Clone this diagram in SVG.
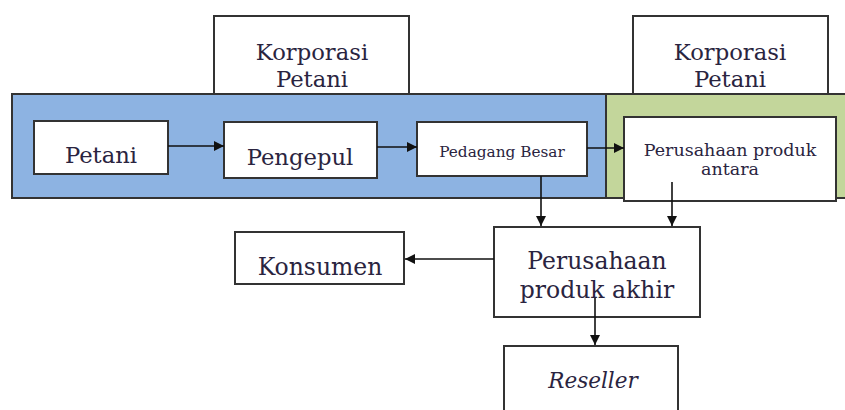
<svg xmlns="http://www.w3.org/2000/svg" width="845" height="410" viewBox="0 0 845 410">
  <defs>
    <marker id="arrow" viewBox="0 0 10 10" refX="10" refY="5" markerWidth="10" markerHeight="10" markerUnits="userSpaceOnUse" orient="auto">
      <path d="M0,0 L10,5 L0,10 z" fill="#111"/>
    </marker>
  </defs>
  <style>
    .box { fill: #ffffff; stroke: #333333; stroke-width: 2; }
    .band { stroke: #333333; stroke-width: 2; }
    .lbl { font-family: "DejaVu Serif", "Liberation Serif", serif; fill: #2a2440; text-anchor: middle; }
    .big { font-size: 22.7px; }
    .mid { font-size: 23.5px; }
    .small { font-size: 15.3px; }
    .conn { stroke: #111111; stroke-width: 1.6; fill: none; marker-end: url(#arrow); }
  </style>

  <!-- Korporasi Petani headers (lower edges hidden behind the bands) -->
  <g id="korporasi1">
    <rect class="box" x="214" y="16" width="195" height="90"/>
    <text class="lbl big" x="312" y="60">Korporasi</text>
    <text class="lbl big" x="312" y="87">Petani</text>
  </g>
  <g id="korporasi2">
    <rect class="box" x="633" y="16" width="195" height="90"/>
    <text class="lbl big" x="730" y="60">Korporasi</text>
    <text class="lbl big" x="730" y="87">Petani</text>
  </g>

  <!-- Coloured bands -->
  <g id="band-blue">
    <rect class="band" x="12" y="94" width="594" height="104" fill="#8db3e2"/>
  </g>
  <g id="band-green">
    <rect class="band" x="606" y="94" width="245" height="104" fill="#c3d69b"/>
  </g>

  <!-- Nodes -->
  <g id="petani">
    <rect class="box" x="34" y="121" width="134" height="53"/>
    <text class="lbl big" x="101" y="163">Petani</text>
  </g>
  <g id="pengepul">
    <rect class="box" x="224" y="122" width="153" height="56"/>
    <text class="lbl big" x="300" y="165">Pengepul</text>
  </g>
  <g id="pedagang-besar">
    <rect class="box" x="417" y="122" width="170" height="54"/>
    <text class="lbl small" x="502" y="157">Pedagang Besar</text>
  </g>
  <g id="perusahaan-antara">
    <rect class="box" x="624" y="117" width="212" height="84"/>
    <text class="lbl" font-size="17.5" x="730" y="156">Perusahaan produk</text>
    <text class="lbl" font-size="17.5" x="730" y="175">antara</text>
  </g>
  <g id="konsumen">
    <rect class="box" x="235" y="232" width="169" height="52"/>
    <text class="lbl mid" x="320" y="275">Konsumen</text>
  </g>
  <g id="perusahaan-akhir">
    <rect class="box" x="494" y="227" width="206" height="90"/>
    <text class="lbl mid" x="597" y="269">Perusahaan</text>
    <text class="lbl mid" x="597" y="298">produk akhir</text>
  </g>
  <g id="reseller">
    <rect class="box" x="504" y="346" width="174" height="80"/>
    <text class="lbl" font-size="21.5" x="593" y="388" font-style="italic">Reseller</text>
  </g>

  <!-- Connectors -->
  <g id="connectors">
    <line class="conn" x1="168" y1="146" x2="224" y2="146"/>
    <line class="conn" x1="377" y1="147" x2="417" y2="147"/>
    <line class="conn" x1="587" y1="148" x2="624" y2="148"/>
    <line class="conn" x1="541" y1="176" x2="541" y2="226"/>
    <line class="conn" x1="672" y1="182" x2="672" y2="226"/>
    <line class="conn" x1="494" y1="259" x2="405" y2="259"/>
    <line class="conn" x1="595" y1="298" x2="595" y2="345"/>
  </g>
</svg>
